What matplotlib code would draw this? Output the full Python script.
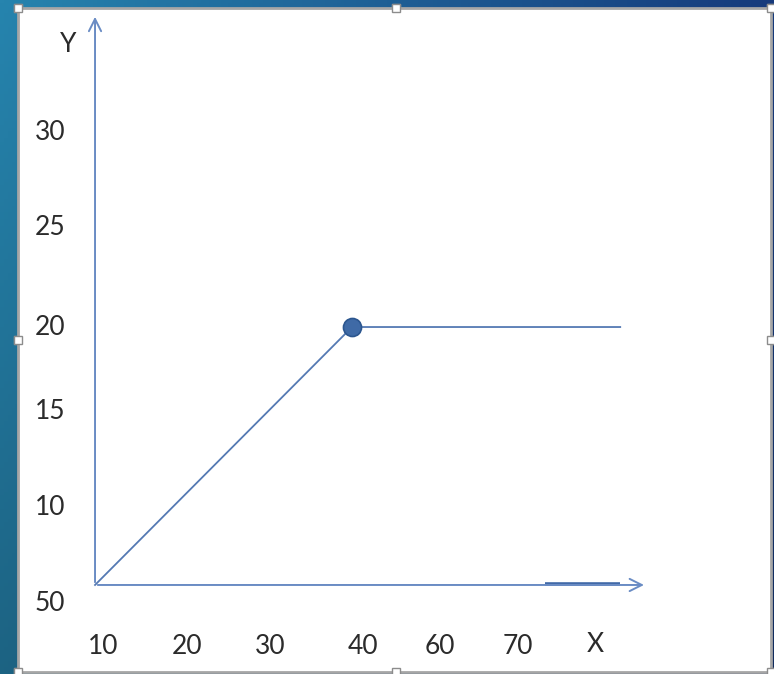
import matplotlib
matplotlib.use("Agg")
import matplotlib.pyplot as plt
import numpy as np

# data of the line (kink at 40/20, then flat)
line_x = [10, 40, 71.3]
line_y = [5, 20, 20]
point_x = 40
point_y = 20

# labels as they are written on the slide
x_labels = ["10", "20", "30", "40", "60", "70"]
x_label_pos = [10.9, 20.7, 30.4, 41.3, 50.3, 59.4]
y_labels = ["30", "25", "20", "15", "10", "50"]
y_label_pos = [31.3, 25.8, 20.0, 15.1, 9.5, 3.9]

plt.rcParams['font.family'] = ['Lato', 'DejaVu Sans']

fig = plt.figure(figsize=(7.74, 6.74), dpi=100)

# slide background gradient
bg = fig.add_axes([0, 0, 1, 1])
W, H = 774, 674
gx = np.linspace(0, 1, 200)[None, :]
gy = np.linspace(0, 1, 200)[:, None]
c_left = np.array([0x26, 0x84, 0xae]) / 255
c_right = np.array([0x16, 0x3a, 0x7c]) / 255
img = c_left * (1 - gx[..., None]) + c_right * gx[..., None]
img = img * (1 - 0.25 * gy[..., None])
bg.imshow(img, extent=[0, W, H, 0], aspect='auto')
bg.set_xlim(0, W)
bg.set_ylim(H, 0)
bg.axis('off')

# white canvas
ax = fig.add_axes([18 / W, 2 / H, (771 - 18) / W, (672 - 8) / H])
ax.set_facecolor('white')
ax.set_xlim(1.01, 88.9)
ax.set_ylim(-0.06, 38.55)
ax.set_xticks([])
ax.set_yticks([])
for s in ax.spines.values():
    s.set_color('#a6a6a6')
    s.set_linewidth(2)

axis_col = '#6a8cc4'
# axes drawn as arrows
ax.annotate('', xy=(10, 38.2), xytext=(10, 5),
            arrowprops=dict(arrowstyle='->', color=axis_col, lw=1.4, mutation_scale=22))
ax.annotate('', xy=(74.4, 5), xytext=(10, 5),
            arrowprops=dict(arrowstyle='->', color=axis_col, lw=1.4, mutation_scale=22))
ax.plot([62.5, 71.3], [5.05, 5.05], color='#4169a8', lw=2.6, solid_capstyle='butt')

ax.plot(line_x, line_y, color='#5479b3', lw=1.3)
ax.plot([point_x], [point_y], 'o', ms=13, mfc='#3f6aa6', mec='#2c568f', mew=1.2)

tc = '#2b2b2b'
for t, p in zip(x_labels, x_label_pos):
    ax.text(p, 1.4, t, ha='center', va='center', fontsize=19, color=tc)
for t, p in zip(y_labels, y_label_pos):
    ax.text(4.75, p, t, ha='center', va='center', fontsize=19, color=tc)
ax.text(6.85, 36.4, 'Y', ha='center', va='center', fontsize=19, color=tc)
ax.text(68.4, 1.55, 'X', ha='center', va='center', fontsize=19, color=tc)

# selection handles on the canvas border
hx = [18, 396, 771, 18, 771, 18, 396, 771]
hy = [8, 8, 8, 340, 340, 672, 672, 672]
bg.plot(hx, hy, 's', ms=6, mfc='white', mec='#8c8c8c', mew=1, zorder=10, clip_on=False)
bg.set_zorder(0)
ax.set_zorder(1)
fig.add_artist(bg.lines[-1])

fig.savefig('out.png', dpi=100)
